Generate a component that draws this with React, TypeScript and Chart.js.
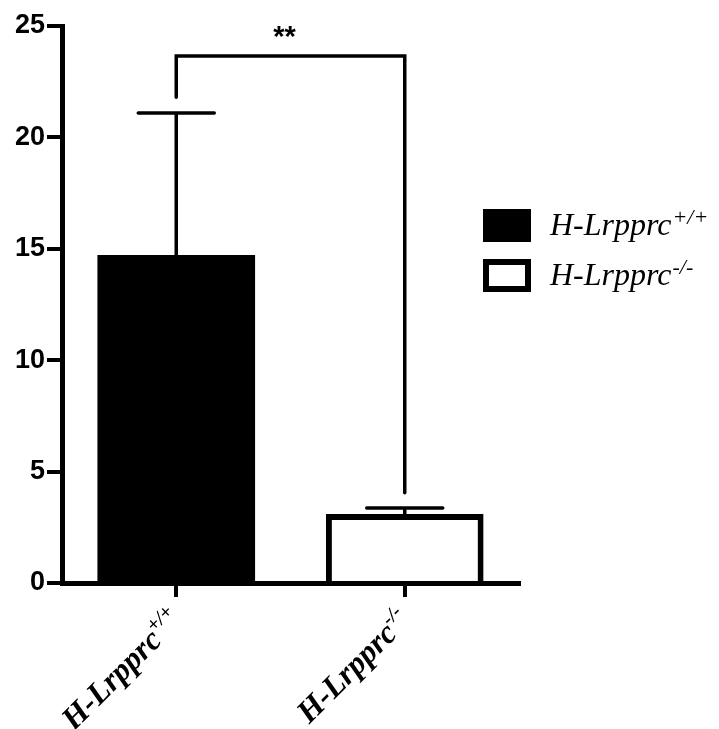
import React, { useEffect, useRef } from "react";
import { Chart, registerables } from "chart.js";

Chart.register(...registerables);

const categories = ["H-Lrpprc+/+", "H-Lrpprc-/-"];
const labelMain = ["H-Lrpprc", "H-Lrpprc"];
const labelSup = ["+/+", "-/-"];
const meanValues = [14.72, 3.1];
const errorValues = [6.38, 0.27];
const yTickStep = 5;
const yMin = 0;
const yMax = 25;
const barFill = ["#000000", "#ffffff"];
const barBorderWidths = [0, 6];
const bracketEnds = [21.8, 4.05];
const bracketTop = 23.65;
const sigLabel = "**";

const overlay = {
  id: "overlay",
  afterDatasetsDraw(chart: any) {
    const ctx = chart.ctx;
    const y = chart.scales.y;
    const meta = chart.getDatasetMeta(0);
    ctx.save();
    ctx.strokeStyle = "#000";
    ctx.lineWidth = 3.5;
    ctx.lineCap = "round";
    meta.data.forEach((bar: any, i: number) => {
      const top = y.getPixelForValue(meanValues[i]);
      const hi = y.getPixelForValue(meanValues[i] + errorValues[i]);
      const cx = bar.x;
      ctx.beginPath();
      ctx.moveTo(cx, top);
      ctx.lineTo(cx, hi);
      ctx.moveTo(cx - 38, hi);
      ctx.lineTo(cx + 38, hi);
      ctx.stroke();
    });
    const x0 = meta.data[0].x;
    const x1 = meta.data[1].x;
    ctx.lineJoin = "miter";
    ctx.beginPath();
    ctx.moveTo(x0, y.getPixelForValue(bracketEnds[0]));
    ctx.lineTo(x0, y.getPixelForValue(bracketTop));
    ctx.lineTo(x1, y.getPixelForValue(bracketTop));
    ctx.lineTo(x1, y.getPixelForValue(bracketEnds[1]));
    ctx.stroke();
    ctx.fillStyle = "#000";
    ctx.font = 'bold 29px "Liberation Sans", Arial, sans-serif';
    ctx.textAlign = "center";
    ctx.textBaseline = "alphabetic";
    ctx.fillText(sigLabel, (x0 + x1) / 2 - 6, y.getPixelForValue(bracketTop) - 10);
    ctx.restore();
  },
  afterDraw(chart: any) {
    const ctx = chart.ctx;
    const x = chart.scales.x;
    const area = chart.chartArea;
    ctx.save();
    ctx.fillStyle = "#000";
    ctx.textBaseline = "alphabetic";
    ctx.textAlign = "left";
    categories.forEach((_c, i) => {
      const px = x.getPixelForValue(i);
      ctx.save();
      ctx.translate(px + 7, area.bottom + 39);
      ctx.rotate(-Math.PI / 4);
      ctx.font = 'bold italic 20px "Liberation Serif", "Times New Roman", serif';
      const wSup = ctx.measureText(labelSup[i]).width;
      ctx.font = 'bold italic 32px "Liberation Serif", "Times New Roman", serif';
      const wMain = ctx.measureText(labelMain[i]).width;
      ctx.fillText(labelMain[i], -(wMain + wSup), 0);
      ctx.font = 'bold italic 20px "Liberation Serif", "Times New Roman", serif';
      ctx.fillText(labelSup[i], -wSup, -13);
      ctx.restore();
    });
    const lx = area.right - 36;
    const boxes = [209, 259];
    categories.forEach((_c, i) => {
      const by = boxes[i];
      if (i === 0) {
        ctx.fillStyle = barFill[0];
        ctx.fillRect(lx, by, 48, 33);
      } else {
        ctx.fillStyle = barFill[1];
        ctx.fillRect(lx, by, 48, 33);
        ctx.strokeStyle = "#000";
        ctx.lineWidth = 6;
        ctx.strokeRect(lx + 3, by + 3, 42, 27);
      }
      ctx.fillStyle = "#000";
      ctx.font = 'italic 32px "Liberation Serif", "Times New Roman", serif';
      const tx = lx + 67;
      const base = by + 26;
      ctx.fillText(labelMain[i], tx, base);
      const w = ctx.measureText(labelMain[i]).width;
      ctx.font = 'italic 22px "Liberation Serif", "Times New Roman", serif';
      ctx.fillText(labelSup[i], tx + w + 1, base - 11);
    });
    ctx.restore();
  },
};

export default function App() {
  const ref = useRef<HTMLCanvasElement>(null);
  useEffect(() => {
    if (!ref.current) return;
    const chart = new Chart(ref.current, {
      type: "bar",
      data: {
        labels: categories,
        datasets: [
          {
            data: meanValues,
            backgroundColor: barFill,
            borderColor: "#000000",
            borderWidth: barBorderWidths,
            barPercentage: 0.69,
            categoryPercentage: 1,
          },
        ],
      },
      options: {
        responsive: false,
        animation: false,
        devicePixelRatio: 1,
        layout: { padding: { left: 0, right: 200, top: 26, bottom: 0 } },
        plugins: { legend: { display: false }, tooltip: { enabled: false } },
        scales: {
          x: {
            offset: true,
            afterFit(scale: any) {
              scale.height = 146;
            },
            border: { display: true, color: "#000", width: 5 },
            grid: {
              display: true,
              drawOnChartArea: false,
              drawTicks: true,
              tickLength: 14,
              offset: false,
              lineWidth: 4,
              color: "#000",
            },
            ticks: { display: false },
          },
          y: {
            min: yMin,
            max: yMax,
            afterFit(scale: any) {
              scale.width = 62;
            },
            border: { display: true, color: "#000", width: 5 },
            grid: {
              display: true,
              drawOnChartArea: false,
              drawTicks: true,
              tickLength: 15,
              lineWidth: 4,
              color: "#000",
            },
            ticks: {
              stepSize: yTickStep,
              color: "#000",
              padding: 2,
              font: { family: '"Liberation Sans", Arial, sans-serif', size: 27, weight: "bold" },
            },
          },
        },
      },
      plugins: [overlay],
    });
    return () => chart.destroy();
  }, []);
  return (
    <canvas
      ref={ref}
      width={719}
      height={729}
      style={{ position: "fixed", left: 0, top: 0, width: 719, height: 729 }}
    />
  );
}
